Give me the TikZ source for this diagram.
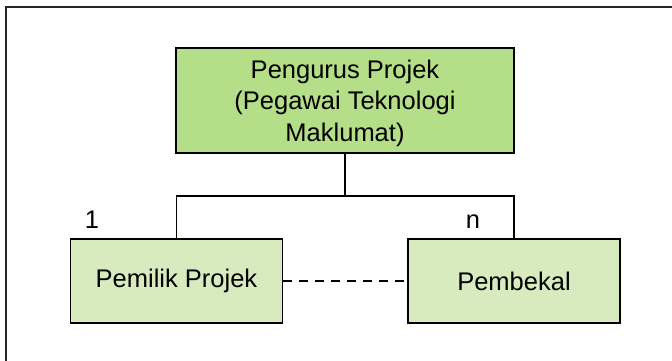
\documentclass[tikz,border=0pt]{standalone}
\usepackage{fontspec}
\setmainfont{Liberation Sans}
\begin{document}
\begin{tikzpicture}[x=1pt,y=-1pt,
  every node/.style={font=\fontsize{25.5}{31.5}\selectfont, text=black},
  topbox/.style={draw=black, line width=1.3pt, fill=topgreen, minimum width=338pt, minimum height=105pt, align=center, inner sep=0pt, text depth=0pt},
  subbox/.style={draw=black, line width=1.3pt, fill=subgreen, minimum width=212pt, minimum height=84pt, inner sep=0pt},
  link/.style={draw=black, line width=1.3pt},
  mult/.style={anchor=base, inner sep=0pt}]
\definecolor{topgreen}{RGB}{181,222,137}
\definecolor{subgreen}{RGB}{215,235,190}
\useasboundingbox (0,0) rectangle (672,361);
\fill[white] (0,0) rectangle (672,361);
\draw[line width=1.4pt, black!85] (6,361) -- (6,7) -- (672,7);
\node[topbox] (top) at (345,100.5) {Pengurus Projek\\(Pegawai Teknologi\\Maklumat)};
\node[subbox] (owner) at (176.5,281) {Pemilik Projek};
\node[subbox] (supplier) at (514,281) {Pembekal};
\coordinate (bus) at (345,196);
\draw[link] (top.south) -- (bus);
\draw[link] (owner.north) |- (bus) -| (supplier.north);
\draw[link, dash pattern=on 9pt off 7pt] (owner.east) -- (supplier.west);
\node[mult] (one) at (92,228) {1};
\node[mult] (many) at (473,228) {n};
\end{tikzpicture}
\end{document}
